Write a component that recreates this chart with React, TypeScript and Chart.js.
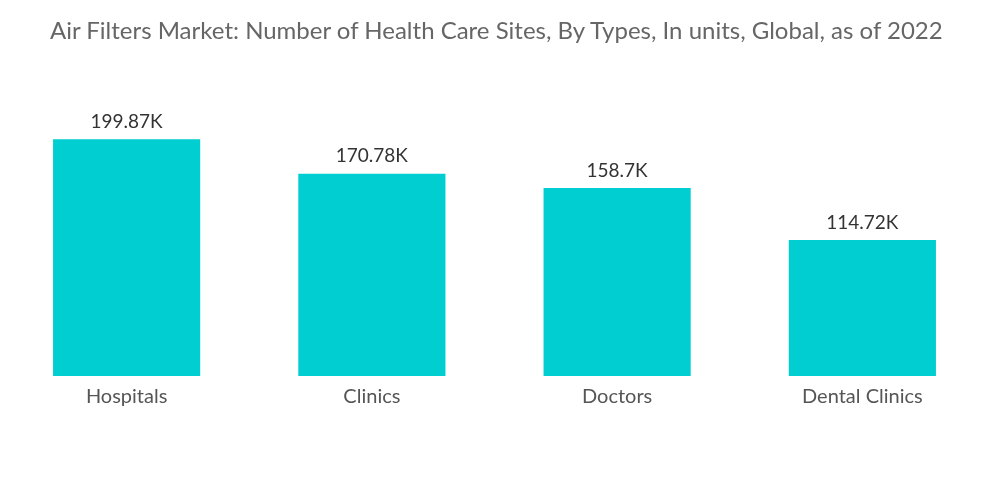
import React, { useEffect, useRef } from "react";
import { Chart, registerables } from "chart.js";

Chart.register(...registerables);

const categories = ["Hospitals", "Clinics", "Doctors", "Dental Clinics"];
const values = [199.87, 170.78, 158.7, 114.72];
const valueLabels = ["199.87K", "170.78K", "158.7K", "114.72K"];
const titleText =
  "Air Filters Market: Number of Health Care Sites, By Types, In units, Global, as of 2022";

const FONT = "Lato, 'Open Sans', sans-serif";

const valueLabelPlugin = {
  id: "valueLabels",
  afterDatasetsDraw(chart: any) {
    const ctx = chart.ctx;
    const meta = chart.getDatasetMeta(0);
    ctx.save();
    ctx.font = `19px ${FONT}`;
    ctx.fillStyle = "#333333";
    ctx.textAlign = "center";
    ctx.textBaseline = "bottom";
    meta.data.forEach((bar: any, i: number) => {
      ctx.fillText(valueLabels[i], bar.x, bar.y - 8);
    });
    ctx.restore();
  },
};

export default function App() {
  const ref = useRef<HTMLCanvasElement | null>(null);
  useEffect(() => {
    if (!ref.current) return;
    const chart = new Chart(ref.current, {
      type: "bar",
      data: {
        labels: categories,
        datasets: [
          {
            data: values,
            backgroundColor: "#00CED1",
            borderWidth: 0,
            barPercentage: 0.6,
            categoryPercentage: 1,
          },
        ],
      },
      options: {
        animation: false,
        responsive: false,
        layout: { padding: { left: 4, right: 15, top: 139, bottom: 68 } },
        plugins: {
          legend: { display: false },
          tooltip: { enabled: false },
          title: { display: false },
        },
        scales: {
          x: {
            grid: { display: false },
            border: { display: false },
            ticks: {
              color: "#555555",
              font: { family: FONT, size: 20 },
              padding: 1,
            },
            afterFit(scale: any) {
              scale.height = 60;
            },
          },
          y: {
            display: false,
            min: 0,
            max: 200,
          },
        },
      },
      plugins: [valueLabelPlugin],
    });
    return () => chart.destroy();
  }, []);
  return (
    <div
      style={{
        position: "absolute",
        left: 0,
        top: 0,
        width: 1000,
        height: 504,
        background: "#ffffff",
      }}
    >
      <div
        style={{
          position: "absolute",
          left: 50,
          top: 15,
          fontFamily: FONT,
          fontSize: 24,
          color: "#666666",
          whiteSpace: "nowrap",
          lineHeight: "30px",
        }}
      >
        {titleText}
      </div>
      <canvas ref={ref} width={1000} height={504} style={{ display: "block" }} />
    </div>
  );
}
